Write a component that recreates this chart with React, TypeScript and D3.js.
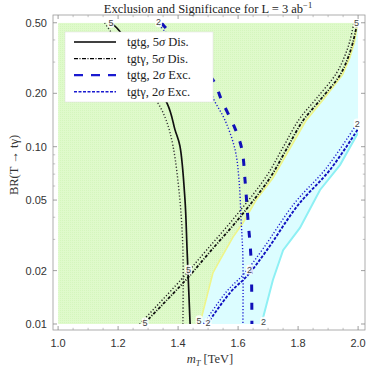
import * as d3 from "d3";
import React from "react";

// ticks
const xTicks = [1.0, 1.2, 1.4, 1.6, 1.8, 2.0];
const xMinor = [1.05, 1.1, 1.15, 1.25, 1.3, 1.35, 1.45, 1.5, 1.55, 1.65, 1.7, 1.75, 1.85, 1.9, 1.95];
const yTicks = [0.01, 0.02, 0.05, 0.1, 0.2, 0.5];
const yTickLabels = ["0.01", "0.02", "0.05", "0.10", "0.20", "0.50"];
const yMinor = [0.03, 0.04, 0.06, 0.07, 0.08, 0.09, 0.3, 0.4];

// contours [mT, BR]
const ggDis5 = [[1.175, 0.5], [1.196, 0.467], [1.363, 0.176], [1.39, 0.124], [1.406, 0.101], [1.423, 0.05], [1.43, 0.026], [1.44, 0.01]];
const ggDis5Dot = [[1.155, 0.5], [1.333, 0.176], [1.36, 0.1415], [1.383, 0.101], [1.406, 0.05], [1.416, 0.026], [1.416, 0.01]];
const ggExc2 = [[1.345, 0.5], [1.35, 0.486], [1.516, 0.238], [1.545, 0.183], [1.592, 0.124], [1.613, 0.096], [1.623, 0.065], [1.633, 0.0386], [1.643, 0.0235], [1.646, 0.01]];
const ggExc2Dot = [[1.33, 0.5], [1.49, 0.238], [1.52, 0.183], [1.556, 0.1415], [1.59, 0.096], [1.603, 0.065], [1.61, 0.0386], [1.616, 0.0235], [1.616, 0.01]];
const gaDis5 = [[1.285, 0.01], [1.423, 0.0175], [1.506, 0.0255], [1.606, 0.04], [1.706, 0.0666], [1.763, 0.098], [1.816, 0.14], [1.873, 0.183], [1.94, 0.254], [1.966, 0.316], [1.983, 0.389], [1.996, 0.486]];
const gaDis5Dot = [[1.272, 0.01], [1.41, 0.0178], [1.494, 0.026], [1.594, 0.041], [1.694, 0.068], [1.751, 0.1], [1.804, 0.143], [1.861, 0.187], [1.928, 0.26], [1.955, 0.323], [1.973, 0.397], [1.986, 0.5]];
const gaExc2 = [[1.497, 0.01], [1.573, 0.015], [1.633, 0.0189], [1.696, 0.0261], [1.8, 0.0469], [1.906, 0.0739], [2.0, 0.126]];
const gaExc2Dot = [[1.485, 0.01], [1.561, 0.0152], [1.621, 0.0193], [1.684, 0.0267], [1.788, 0.048], [1.894, 0.0757], [1.99, 0.13]];

// region boundaries
const greenEdge = [[1.998, 0.5], [1.988, 0.389], [1.972, 0.316], [1.948, 0.254], [1.882, 0.183], [1.826, 0.14], [1.773, 0.098], [1.716, 0.0666], [1.66, 0.05], [1.616, 0.0371], [1.583, 0.0309], [1.54, 0.023], [1.516, 0.0194], [1.48, 0.0112], [1.47, 0.01]];
const cyanEdge = [[1.68, 0.01], [1.683, 0.0108], [1.716, 0.0177], [1.75, 0.0261], [1.806, 0.0348], [1.873, 0.057], [1.94, 0.079], [2.0, 0.12]];

const contourLabels = [
	{ m: 1.176, br: 0.5, t: "5" },
	{ m: 1.335, br: 0.505, t: "2" },
	{ m: 1.995, br: 0.5, t: "5" },
	{ m: 1.997, br: 0.135, t: "2" },
	{ m: 1.435, br: 0.0202, t: "5" },
	{ m: 1.29, br: 0.0102, t: "5" },
	{ m: 1.47, br: 0.0105, t: "5" },
	{ m: 1.5, br: 0.0102, t: "2" },
	{ m: 1.638, br: 0.0202, t: "2" },
	{ m: 1.685, br: 0.0103, t: "2" },
];

const BLUE = "#1a1ad0";
const legendItems = [
	{ label: "tgtg, 5", tail: " Dis.", color: "#000", width: 1.6, dash: "" },
	{ label: "tgt\u03b3, 5", tail: " Dis.", color: "#000", width: 1.2, dash: "4,1.5,1,1.5" },
	{ label: "tgtg, 2", tail: " Exc.", color: BLUE, width: 2.2, dash: "9,8" },
	{ label: "tgt\u03b3, 2", tail: " Exc.", color: BLUE, width: 1.4, dash: "3,1.5" },
];

const serif = "'Liberation Serif', 'DejaVu Serif', serif";
const sans = "'Liberation Sans', Arial, sans-serif";

const App = () => {
	const left = 53, right = 365, top = 15, bottom = 330;
	const x = d3.scaleLinear().domain([0.983, 2.023]).range([left, right]);
	const y = d3.scaleLog().domain([0.00925, 0.553]).range([bottom, top]);

	const line = d3.line<number[]>().x((d) => x(d[0])).y((d) => y(d[1]));
	const smooth = d3
		.line<number[]>()
		.x((d) => x(d[0]))
		.y((d) => y(d[1]))
		.curve(d3.curveCatmullRom);

	const greenPoly = [[1.0, 0.01], [1.0, 0.5], ...greenEdge];
	const cyanPoly = [...greenEdge, ...cyanEdge, [2.0, 0.5]];

	const tickLen = 4;
	const minorLen = 2.2;

	return (
		<svg
			width={374}
			height={374}
			style={{ position: "absolute", left: 0, top: 0, background: "#fff" }}
		>
			<defs>
				<pattern id="gdots" width="2" height="2" patternUnits="userSpaceOnUse">
					<rect width="2" height="2" fill="#dffacb" />
					<rect width="1" height="1" fill="#d4f6bd" />
				</pattern>
				<clipPath id="plotclip">
					<rect x={x(1.0)} y={y(0.5)} width={x(2.0) - x(1.0)} height={y(0.01) - y(0.5)} />
				</clipPath>
			</defs>

			{/* title */}
			<text x={208} y={13} textAnchor="middle" fontFamily={serif} fontSize={12.5} fill="#222">
				Exclusion and Significance for L = 3 ab
				<tspan dy={-5} fontSize={8.5}>{"\u22121"}</tspan>
			</text>

			{/* regions */}
			<g clipPath="url(#plotclip)">
				<path d={line(greenPoly) + "Z"} fill="url(#gdots)" />
				<path d={line(cyanPoly) + "Z"} fill="#dcfdff" />
				<path d={line(greenEdge)!} fill="none" stroke="#eef58a" strokeWidth={1.6} />
				<path d={line(cyanEdge)!} fill="none" stroke="#8ef0f4" strokeWidth={2} />

				{/* tgtg 5 sigma */}
				<path d={smooth(ggDis5Dot)!} fill="none" stroke="#333" strokeWidth={1.4} strokeDasharray="1.2,2" />
				<path d={smooth(ggDis5)!} fill="none" stroke="#111" strokeWidth={1.7} />
				{/* tgtg 2 sigma */}
				<path d={smooth(ggExc2Dot)!} fill="none" stroke={BLUE} strokeWidth={1.4} strokeDasharray="1.2,2" />
				<path d={smooth(ggExc2)!} fill="none" stroke="#1010b8" strokeWidth={3} strokeDasharray="7,11" />
				{/* tgt gamma 5 sigma */}
				<path d={smooth(gaDis5Dot)!} fill="none" stroke="#222" strokeWidth={1.4} strokeDasharray="1.2,2" />
				<path d={smooth(gaDis5)!} fill="none" stroke="#111" strokeWidth={1.8} strokeDasharray="3,1.5,1,1.5" />
				{/* tgt gamma 2 sigma */}
				<path d={smooth(gaExc2Dot)!} fill="none" stroke={BLUE} strokeWidth={1.4} strokeDasharray="1.2,2" />
				<path d={smooth(gaExc2)!} fill="none" stroke="#1010c0" strokeWidth={1.9} strokeDasharray="3,1.5" />
			</g>

			{contourLabels.map((l, i) => (
				<g key={i} transform={`translate(${x(l.m)},${y(l.br)})`}>
					<rect x={-3.5} y={-5} width={7} height={10} rx={3} fill="#fff" opacity={0.85} />
					<text textAnchor="middle" dy={3.5} fontFamily={sans} fontSize={9} fill="#444">
						{l.t}
					</text>
				</g>
			))}

			{/* frame */}
			<rect x={left} y={top} width={right - left} height={bottom - top} fill="none" stroke="#999" strokeWidth={0.8} />
			{xTicks.map((t) => (
				<g key={"xt" + t}>
					<line x1={x(t)} x2={x(t)} y1={bottom} y2={bottom - tickLen} stroke="#888" strokeWidth={0.8} />
					<line x1={x(t)} x2={x(t)} y1={top} y2={top + tickLen} stroke="#888" strokeWidth={0.8} />
					<text x={x(t)} y={347} textAnchor="middle" fontFamily={sans} fontSize={11} fill="#333">
						{t.toFixed(1)}
					</text>
				</g>
			))}
			{xMinor.map((t) => (
				<g key={"xm" + t}>
					<line x1={x(t)} x2={x(t)} y1={bottom} y2={bottom - minorLen} stroke="#999" strokeWidth={0.6} />
					<line x1={x(t)} x2={x(t)} y1={top} y2={top + minorLen} stroke="#999" strokeWidth={0.6} />
				</g>
			))}
			{yTicks.map((t, i) => (
				<g key={"yt" + t}>
					<line x1={left} x2={left + tickLen} y1={y(t)} y2={y(t)} stroke="#888" strokeWidth={0.8} />
					<line x1={right} x2={right - tickLen} y1={y(t)} y2={y(t)} stroke="#888" strokeWidth={0.8} />
					<text x={47} y={y(t) + 4} textAnchor="end" fontFamily={sans} fontSize={11} fill="#333">
						{yTickLabels[i]}
					</text>
				</g>
			))}
			{yMinor.map((t) => (
				<g key={"ym" + t}>
					<line x1={left} x2={left + minorLen} y1={y(t)} y2={y(t)} stroke="#999" strokeWidth={0.6} />
					<line x1={right} x2={right - minorLen} y1={y(t)} y2={y(t)} stroke="#999" strokeWidth={0.6} />
				</g>
			))}

			{/* axis labels */}
			<text x={210} y={363} textAnchor="middle" fontFamily={serif} fontSize={12.5} fill="#333">
				<tspan fontStyle="italic">m</tspan>
				<tspan fontStyle="italic" fontSize={8.5} dy={3}>T</tspan>
				<tspan dy={-3}> [TeV]</tspan>
			</text>
			<text
				transform="translate(18,165) rotate(-90)"
				textAnchor="middle"
				fontFamily={serif}
				fontSize={12.5}
				fill="#333"
			>
				BR(T {"\u2192"} t{"\u03b3"})
			</text>

			{/* legend */}
			<rect x={65} y={32} width={148} height={70} fill="#fff" stroke="#ddd" strokeWidth={0.5} />
			{legendItems.map((it, i) => {
				const ry = 42 + i * 16.6;
				return (
					<g key={"lg" + i}>
						<line x1={74} x2={116} y1={ry} y2={ry} stroke={it.color} strokeWidth={it.width} strokeDasharray={it.dash} />
						<text x={127} y={ry + 4} fontFamily={serif} fontSize={12.5} fill="#222">
							{it.label}
							<tspan fontStyle="italic">{"\u03c3"}</tspan>
							{it.tail}
						</text>
					</g>
				);
			})}
		</svg>
	);
};

export default App;
